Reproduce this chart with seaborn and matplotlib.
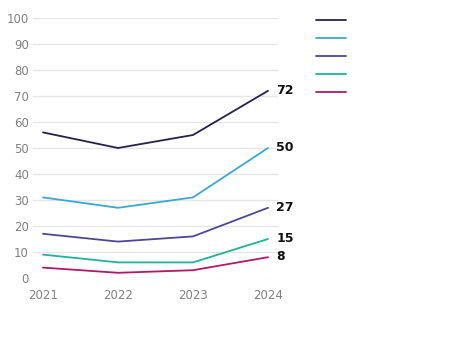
import matplotlib
matplotlib.use("Agg")
import matplotlib.pyplot as plt
import seaborn as sns
import pandas as pd

years = [2021, 2022, 2023, 2024]
series_names = ["Series 1", "Series 2", "Series 3", "Series 4", "Series 5"]
values_1 = [56, 50, 55, 72]
values_2 = [31, 27, 31, 50]
values_3 = [17, 14, 16, 27]
values_4 = [9, 6, 6, 15]
values_5 = [4, 2, 3, 8]
colors = ["#25214f", "#3ba7d6", "#4a4896", "#1fb39a", "#b3176b"]
y_ticks = [0, 10, 20, 30, 40, 50, 60, 70, 80, 90, 100]

all_values = [values_1, values_2, values_3, values_4, values_5]
rows = []
for name, vals in zip(series_names, all_values):
    for yr, v in zip(years, vals):
        rows.append({"year": yr, "value": v, "series": name})
df = pd.DataFrame(rows)

sns.set_theme(style="white")
plt.rcParams["font.family"] = ["DejaVu Sans"]

fig = plt.figure(figsize=(4.73, 3.54), dpi=100)
ax = fig.add_axes([33/473, 1 - 278/354, (278 - 33)/473, 260/354])

sns.lineplot(data=df, x="year", y="value", hue="series", palette=colors,
             linewidth=1.3, ax=ax, legend=False, clip_on=False)

ax.set_xlim(2021 - 10/75, 2024 + 10/75)
ax.set_ylim(0, 100)
ax.set_yticks(y_ticks)
ax.set_xticks(years)
ax.set_xticklabels([str(y) for y in years])
ax.grid(axis="y", color="#e6e6e6", linewidth=0.9)
ax.set_axisbelow(True)
for s in ax.spines.values():
    s.set_visible(False)
ax.tick_params(axis="y", length=0, pad=3, labelsize=8.5, labelcolor="#808080")
ax.tick_params(axis="x", length=4, width=0.8, color="#dddddd", pad=4,
               labelsize=8.5, labelcolor="#808080")
ax.set_xlabel("")
ax.set_ylabel("")

for vals in all_values:
    ax.annotate(str(vals[-1]), xy=(years[-1], vals[-1]), xytext=(6, 0.5),
                textcoords="offset points", fontsize=9, fontweight="bold",
                color="#111111", va="center", ha="left")

handles = [plt.Line2D([], [], color=c, linewidth=1.3) for c in colors]
fig.legend(handles, [" "] * 5, loc="upper left",
           bbox_to_anchor=(310/473, 1 - 8/354), frameon=False,
           handlelength=2.2, fontsize=10, labelspacing=0.3,
           handletextpad=0.2, borderaxespad=0)

fig.savefig("out.png", dpi=100, facecolor="white")
